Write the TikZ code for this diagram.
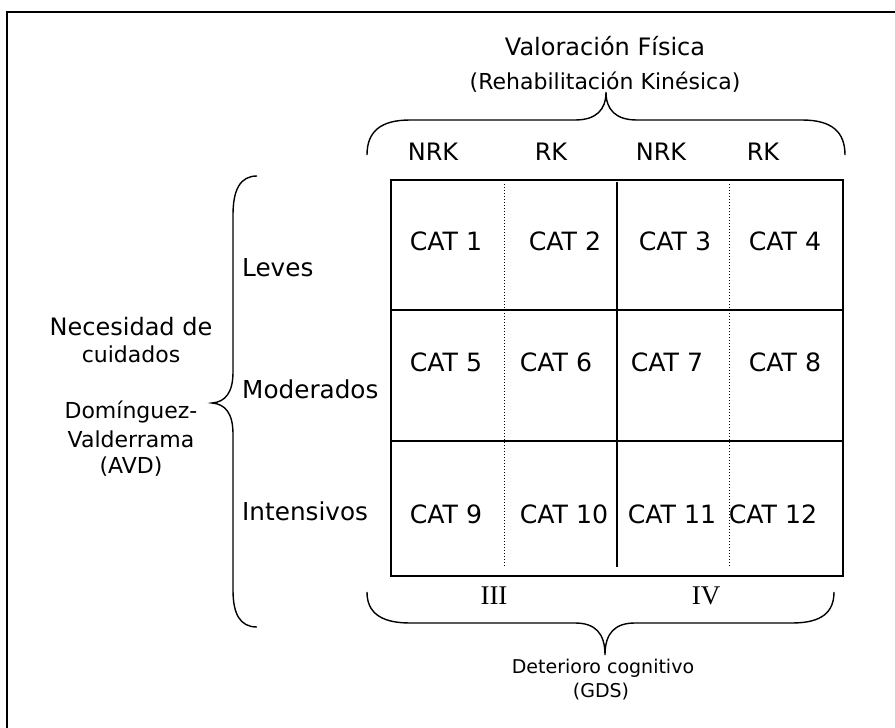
\documentclass[tikz,border=0pt]{standalone}
\usepackage{fontspec}
\setmainfont{DejaVu Sans}
\newfontfamily\romanfont{Liberation Serif}
\begin{document}
\begin{tikzpicture}[x=1pt,y=-1pt,
  lbl/.style={inner sep=0pt,anchor=base,font=\fontsize{24}{28}\selectfont},
  lblw/.style={inner sep=0pt,anchor=base west,font=\fontsize{24.7}{28}\selectfont},
  sml/.style={inner sep=0pt,anchor=base,font=\fontsize{22}{26}\selectfont},
  tny/.style={inner sep=0pt,anchor=base,font=\fontsize{19}{22}\selectfont},
  rom/.style={inner sep=0pt,anchor=base,font=\romanfont\fontsize{27}{30}\selectfont},
  cat/.style={inner sep=0pt,anchor=base,font=\fontsize{25.2}{28}\selectfont},
  brace/.style={draw=black,line width=1.4pt},
  gridline/.style={draw=black,line width=1.5pt},
  dotline/.style={draw=black,line width=1pt,dotted}]
\useasboundingbox (0,0) rectangle (895,728);
% frame
\draw[line width=2pt] (895,12) -- (7,12) -- (7,728);

% top labels
\node[lbl] (vf) at (605,55) {Valoración Física};
\node[sml] (rk) at (605,89) {(Rehabilitación Kinésica)};
\coordinate (toptip) at (606,92);
\draw[brace] (367,155) .. controls (367,132) and (380,120) .. (410,120) -- (575,120)
  .. controls (596,120) and (606,110) .. (toptip)
  .. controls (606,110) and (616,120) .. (637,120) -- (802,120)
  .. controls (832,120) and (845,132) .. (845,155);
\node[lbl] (h1) at (433,160) {NRK};
\node[lbl] (h2) at (551,160) {RK};
\node[lbl] (h3) at (661,160) {NRK};
\node[lbl] (h4) at (763,160) {RK};

% grid
\node[draw=black,line width=1.5pt,minimum width=452pt,minimum height=396pt,inner sep=0pt] (grid) at (617,378) {};
\draw[gridline] (391,310) -- (843,310);
\draw[gridline] (391,441) -- (843,441);
\draw[gridline] (617,182) -- (617,567);
\draw[dotline] (504,184) -- (504,567);
\draw[dotline] (729,184) -- (729,567);

\node[cat] (c1) at (446,250) {CAT 1};
\node[cat] (c2) at (565,250) {CAT 2};
\node[cat] (c3) at (675,250) {CAT 3};
\node[cat] (c4) at (785,250) {CAT 4};
\node[cat] (c5) at (446,371) {CAT 5};
\node[cat] (c6) at (556,371) {CAT 6};
\node[cat] (c7) at (667,371) {CAT 7};
\node[cat] (c8) at (785,371) {CAT 8};
\node[cat] (c9) at (446,523) {CAT 9};
\node[cat] (c10) at (564,523) {CAT 10};
\node[cat] (c11) at (672,523) {CAT 11};
\node[cat] (c12) at (773,523) {CAT 12};

% left brace
\coordinate (lefttip) at (212,403);
\draw[brace] (257,176) .. controls (240,176) and (233,190) .. (233,215) -- (233,372)
  .. controls (233,393) and (225,402) .. (lefttip)
  .. controls (225,404) and (233,413) .. (233,434) -- (233,590)
  .. controls (233,614) and (240,627) .. (257,627);
\node[lblw] (lev) at (242,276) {Leves};
\node[lblw] (mod) at (242,398) {Moderados};
\node[lblw] (int) at (242,520) {Intensivos};

\node[lbl] (nec) at (131,335) {Necesidad de};
\node[sml] (cui) at (131,362) {cuidados};
\node[sml] (dom) at (131,418) {Domínguez-};
\node[sml] (val) at (131,447) {Valderrama};
\node[sml] (avd) at (131,473) {(AVD)};

% bottom brace
\coordinate (bottip) at (605,655);
\draw[brace] (367,592) .. controls (367,612) and (380,623) .. (410,623) -- (575,623)
  .. controls (595,623) and (605,633) .. (bottip)
  .. controls (605,633) and (615,623) .. (635,623) -- (792,623)
  .. controls (822,623) and (834,612) .. (834,592);
\node[rom] (iii) at (494,604) {III};
\node[rom] (iv) at (706,604) {IV};
\node[tny] (det) at (603,673) {Deterioro cognitivo};
\node[tny] (gds) at (601,697) {(GDS)};
\end{tikzpicture}
\end{document}
